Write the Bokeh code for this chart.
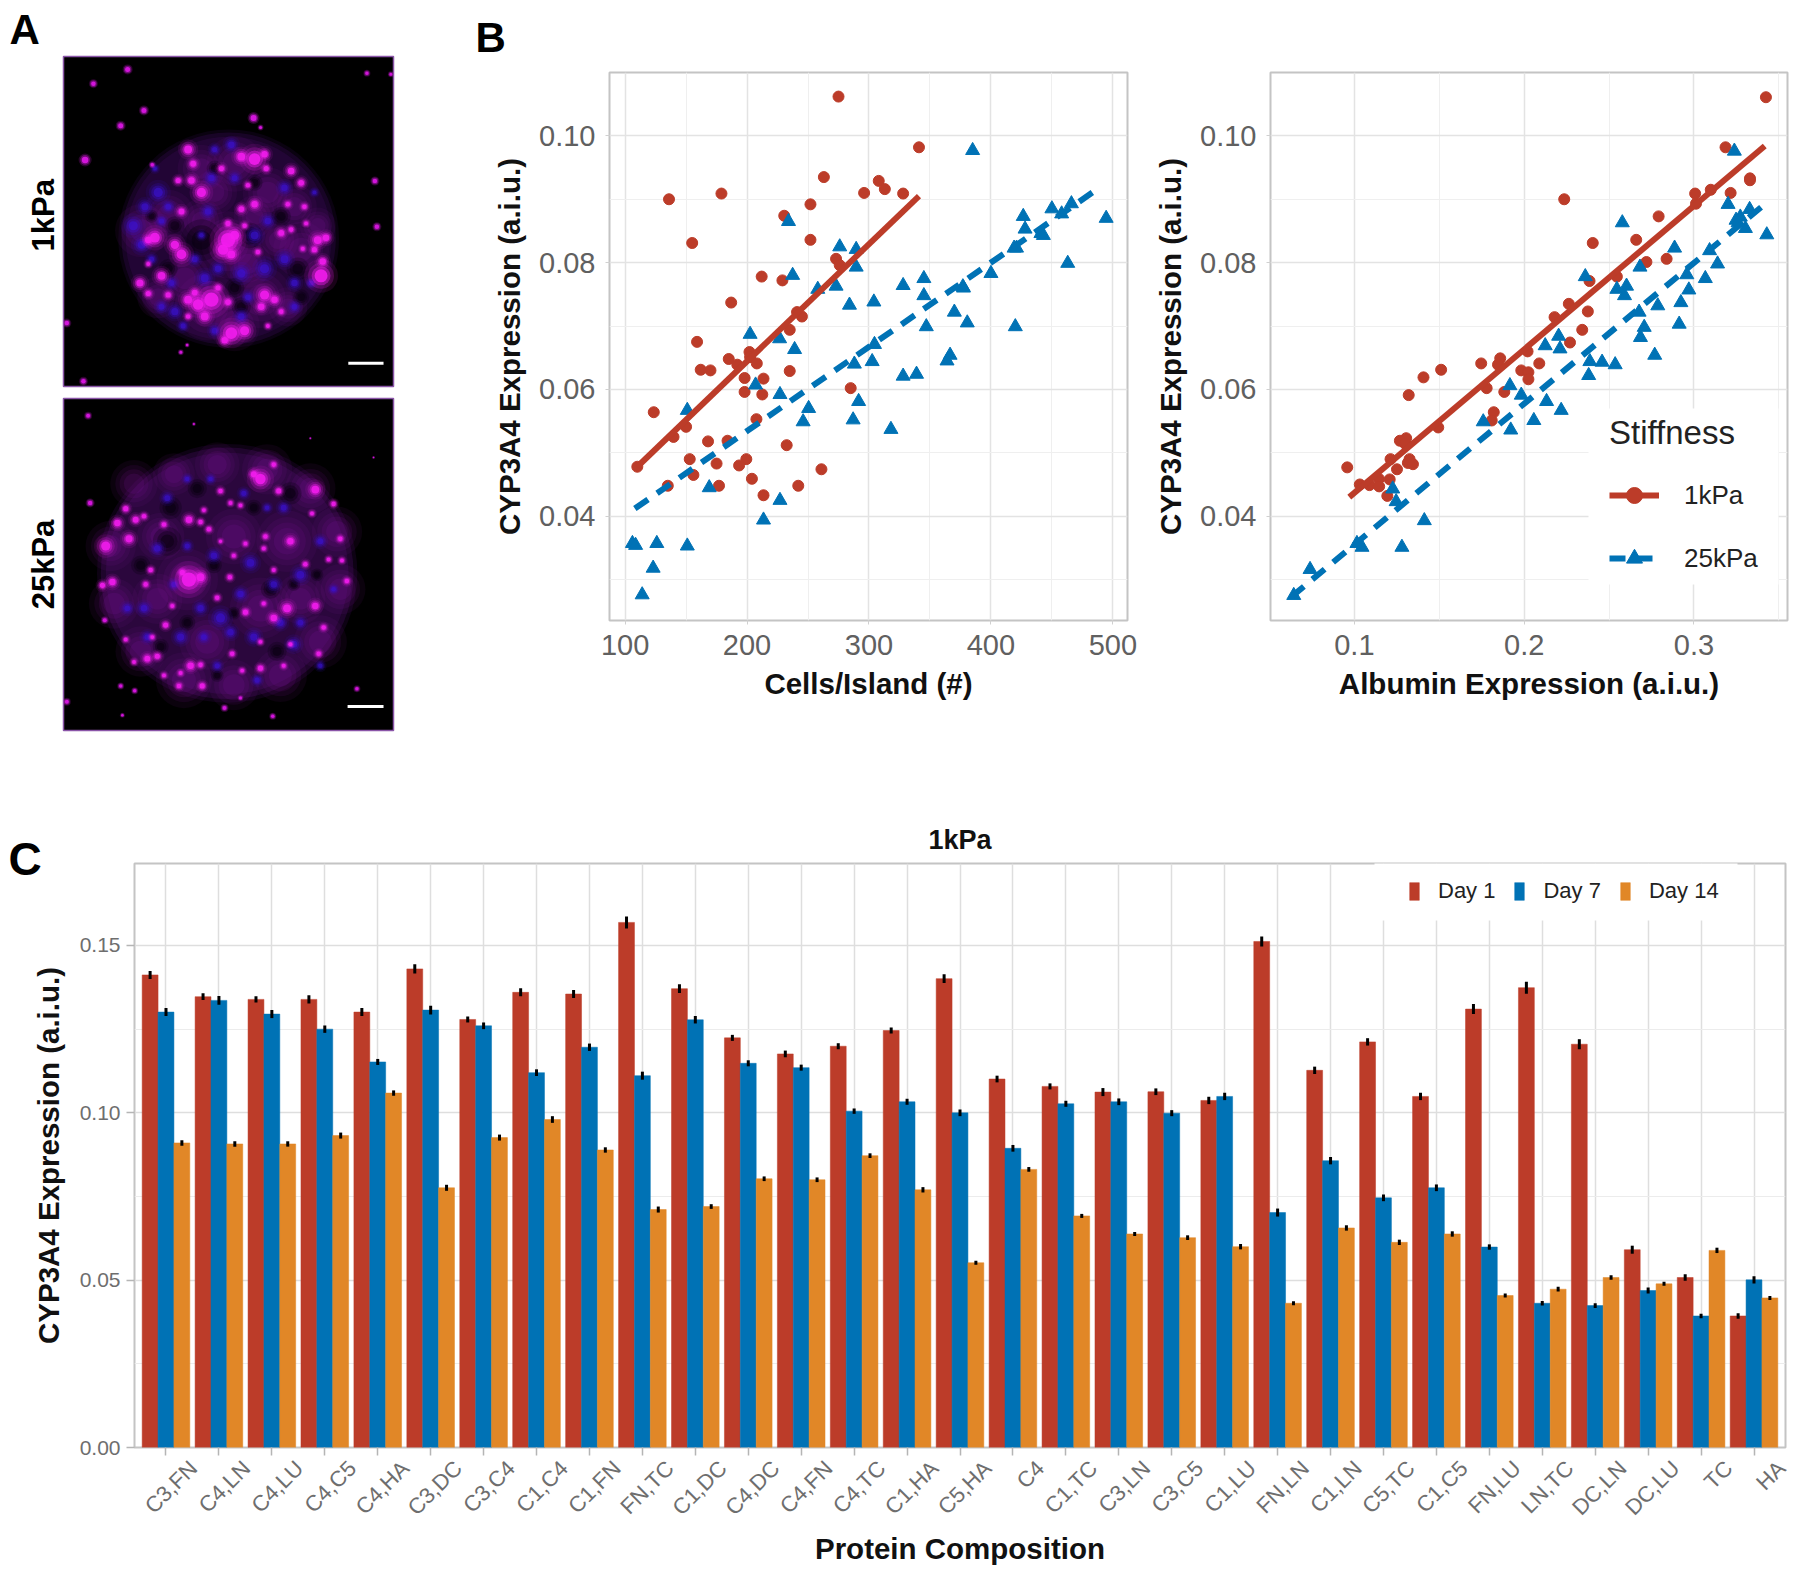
from math import pi
from bokeh.plotting import figure
from bokeh.layouts import column, row
from bokeh.models import (ColumnDataSource, FixedTicker, Legend, LegendItem, LinearAxis,
                          PrintfTickFormatter, Range1d, BoxAnnotation, Title)
from bokeh.embed import file_html
from bokeh.resources import INLINE

FONT = "Liberation Sans"
RED, BLUE, ORANGE = "#BC3C29", "#0072B5", "#E18727"

# ---------- Panel B data ----------
cells_1k = [275,341,136,179,263,308,313,296,328,252,230.5,252,155,273,276,212,229,187,241,245,235,159,185,202,202.5,208,192,162,170,235,198,213.5,198,212.5,285,123.5,207.7,150,139.7,168,184,232.5,153,199.4,175,193.5,110,261,156,204,135,177,242,213.5]
cyp_1k = [.1062,.0982,.0900,.0909,.0935,.0929,.0916,.0910,.0909,.0892,.0874,.0836,.0831,.0806,.0796,.0778,.0772,.0737,.0722,.0715,.0694,.0675,.0648,.0659,.0651,.0641,.0639,.0631,.0630,.0629,.0618,.0617,.0596,.0592,.0602,.0564,.0553,.0541,.0525,.0518,.0519,.0512,.0490,.0490,.0483,.0480,.0478,.0474,.0465,.0459,.0448,.0448,.0448,.0433]
cells_25k = [385,234,494.5,426.5,466,450,458,428,441,443,276,289.5,289.5,419,421,463,400,237.4,345,328,377,273,258,345,304,284,370,380.6,347,420,202.5,226.7,304.5,239,366.5,364,302.6,288,339,328,207,227,291.5,250.5,151,287,246,318,169,227,213.5,106,108.6,126,151,123,114,377.5]
cyp_25k = [.0977,.0865,.0870,.0873,.0893,.0885,.0877,.0853,.0846,.0843,.0825,.0821,.0793,.0823,.0823,.0799,.0783,.0780,.0775,.0764,.0762,.0763,.0758,.0748,.0738,.0733,.0722,.0705,.0699,.0699,.0687,.0680,.0671,.0663,.0654,.0645,.0644,.0640,.0624,.0621,.0607,.0592,.0581,.0570,.0567,.0552,.0549,.0537,.0445,.0425,.0394,.0357,.0354,.0357,.0353,.0318,.0276,.0760]
fit_cells_1k_x = [110, 341]
fit_cells_1k_y = [.0478, .0905]
fit_cells_25k_x = [108, 485]
fit_cells_25k_y = [.0412, .0913]

alb_1k = [.3424,.3186,.3330,.3330,.3099,.3216,.3007,.3012,.2236,.2792,.2660,.2404,.2839,.2720,.2546,.2385,.2263,.2375,.2179,.2342,.2270,.2020,.1859,.1747,.1846,.2089,.1511,.1983,.2025,.1407,.2025,.1779,.1883,.1320,.1821,.1809,.1494,.1305,.1268,.1300,.1213,.1325,.1315,.1345,.1251,.0958,.1208,.1144,.1032,.1089,.1146,.1194]
cypa_1k = [.1061,.0982,.0933,.0930,.0915,.0910,.0909,.0893,.0900,.0873,.0836,.0831,.0806,.0801,.0778,.0771,.0735,.0723,.0714,.0694,.0674,.0660,.0649,.0641,.0639,.0641,.0631,.0630,.0627,.0619,.0616,.0602,.0596,.0591,.0564,.0551,.0540,.0523,.0519,.0514,.0490,.0490,.0484,.0482,.0474,.0477,.0458,.0459,.0450,.0449,.0447,.0432]
alb_25k = [.3238,.2578,.3201,.3328,.3429,.3248,.3273,.3260,.3303,.2886,.3092,.2682,.3139,.2958,.2360,.3067,.2603,.2546,.2970,.2591,.2923,.2787,.2677,.2707,.2913,.2685,.2203,.2124,.2211,.2769,.2387,.2459,.2536,.2380,.1916,.1983,.2132,.2218,.1759,.2057,.1921,.1226,.1246,.1412,.1015,.1045,.1280,.0739,.0643]
cypa_25k = [.0976,.0863,.0892,.0884,.0844,.0867,.0872,.0863,.0854,.0823,.0819,.0793,.0798,.0781,.0778,.0775,.0763,.0758,.0757,.0748,.0737,.0732,.0722,.0698,.0703,.0682,.0684,.0669,.0664,.0654,.0644,.0643,.0639,.0622,.0606,.0591,.0581,.0567,.0549,.0551,.0536,.0443,.0423,.0393,.0357,.0351,.0351,.0316,.0275]
fit_alb_1k_x = [.097, .3417]
fit_alb_1k_y = [.0430, .0984]
fit_alb_25k_x = [.063, .3434]
fit_alb_25k_y = [.0273, .0896]

# ---------- Panel C data ----------
compositions = ["C3,FN","C4,LN","C4,LU","C4,C5","C4,HA","C3,DC","C3,C4","C1,C4","C1,FN","FN,TC","C1,DC","C4,DC","C4,FN","C4,TC","C1,HA","C5,HA","C4","C1,TC","C3,LN","C3,C5","C1,LU","FN,LN","C1,LN","C5,TC","C1,C5","FN,LU","LN,TC","DC,LN","DC,LU","TC","HA"]
day1 = [.1412,.1347,.1339,.1339,.1301,.1430,.1279,.1360,.1355,.1569,.1371,.1224,.1176,.1199,.1246,.1401,.1101,.1079,.1062,.1063,.1037,.1512,.1127,.1212,.1049,.1310,.1374,.1205,.0591,.0508,.0393]
day7 = [.1301,.1336,.1295,.1250,.1152,.1307,.1260,.1120,.1196,.1111,.1278,.1148,.1135,.1005,.1033,.1000,.0894,.1027,.1033,.0999,.1049,.0702,.0857,.0746,.0776,.0599,.0431,.0424,.0469,.0393,.0501]
day14 = [.0910,.0907,.0907,.0932,.1059,.0776,.0926,.0980,.0889,.0711,.0720,.0803,.0800,.0872,.0770,.0552,.0831,.0692,.0638,.0627,.0600,.0431,.0656,.0613,.0638,.0454,.0473,.0508,.0489,.0589,.0447]
err1 = [.0012,.0010,.0009,.0012,.0012,.0014,.0009,.0012,.0012,.0018,.0013,.0009,.0010,.0009,.0009,.0013,.0010,.0009,.0012,.0010,.0011,.0015,.0011,.0011,.0011,.0015,.0018,.0015,.0012,.0010,.0008]
err7 = [.0012,.0013,.0012,.0011,.0009,.0013,.0010,.0010,.0011,.0012,.0011,.0009,.0009,.0008,.0009,.0010,.0010,.0009,.0010,.0009,.0011,.0012,.0011,.0010,.0010,.0008,.0007,.0007,.0009,.0007,.0011]
err14 = [.0008,.0008,.0008,.0009,.0008,.0009,.0009,.0010,.0008,.0009,.0007,.0007,.0007,.0007,.0008,.0006,.0007,.0006,.0006,.0007,.0008,.0006,.0008,.0008,.0008,.0006,.0007,.0007,.0006,.0008,.0006]

# ---------- Panel A: spots (x, y, diameter) ----------
a1_far = [(378,142,10),(275,172,9),(427,228,10),(357,260,10),(250,332,13),(757,244,12),(778,264,6),(1098,150,7),(1170,152,6),(1122,376,9),(1128,472,9),(195,674,9),(245,796,9),(538,735,6),(557,720,5),(452,342,7)]
a1_haze = [(600,350,34),(700,340,40),(800,400,36),(500,450,38),(420,480,38),(550,580,36),(620,640,48),(780,620,44),(900,520,40),(680,510,48),(830,500,30),(700,680,36),(470,620,30),(880,430,32),(600,460,32),(740,550,34),(640,400,32),(950,470,26),(860,640,28),(760,450,30)]
a1_dark = [(600,500,26),(745,490,16),(520,470,12),(700,600,12),(640,350,10),(840,450,12),(890,560,14),(500,560,12),(720,640,12),(760,380,10),(450,450,8),(900,620,10)]
a1_blue = [(470,400,14),(430,430,11),(500,430,9),(395,470,14),(420,510,12),(480,460,8),(620,440,10),(630,370,10),(700,370,9),(600,490,7),(580,540,9),(760,490,12),(800,460,10),(790,560,14),(720,570,13),(650,560,10),(850,540,12),(880,590,10),(740,620,9),(520,650,11),(480,640,9),(545,680,8),(640,690,9),(720,660,10),(880,640,9),(610,580,12),(510,590,9),(450,540,8),(850,390,10),(690,300,10),(640,310,8),(940,400,6),(930,590,8),(460,350,6)]
a1_mag = [(760,330,18),(720,325,12),(790,320,10),(560,310,12),(575,340,9),(530,375,8),(600,400,14),(570,375,10),(870,355,10),(900,380,9),(795,350,8),(740,385,7),(660,350,8),(540,440,9),(680,465,8),(730,470,7),(760,425,10),(720,435,9),(860,425,7),(910,430,7),(915,465,6),(840,485,9),(870,478,7),(460,495,15),(440,500,10),(520,510,13),(540,530,15),(680,500,22),(665,520,16),(700,490,14),(690,530,12),(950,500,12),(975,495,10),(940,520,8),(770,525,7),(905,518,6),(960,575,20),(965,545,10),(480,575,12),(415,590,11),(440,612,8),(500,615,8),(630,625,22),(590,635,16),(560,625,12),(610,660,12),(790,615,14),(820,625,10),(780,640,10),(680,630,9),(690,695,18),(730,690,14),(670,710,10),(840,650,7),(800,680,6),(440,550,6),(560,660,7),(580,610,9),(650,600,8)]
a1_bar_x = [1042, 1148]
a1_bar_y = [758, 758]

a2_far = [(262,868,8),(268,1050,9),(312,1295,8),(360,1432,7),(402,1442,7),(198,1465,8),(672,1478,8),(817,1495,7),(1070,1438,7),(365,1493,5),(720,1457,6),(580,885,4),(930,915,3),(1120,955,3)]
a2_haze = [(400,1010,34),(520,990,30),(650,970,32),(800,980,36),(930,1020,36),(1010,1110,36),(1020,1230,36),(960,1340,38),(840,1410,38),(700,1430,36),(550,1420,40),(420,1360,36),(340,1260,36),(330,1140,36),(560,1210,44),(700,1120,40),(860,1130,44),(780,1270,44),(620,1340,40),(480,1120,34),(900,1250,36),(470,1250,36)]
a2_dark = [(500,1130,18),(510,1060,14),(590,1020,12),(870,1030,14),(810,1230,12),(640,1180,10),(760,1060,10),(420,1180,12),(560,1300,10),(700,1280,8),(880,1220,8),(480,1350,10),(830,1360,12),(650,1410,8),(950,1200,8)]
a2_blue = [(500,1040,9),(470,1145,10),(560,1140,8),(640,1160,10),(750,1175,12),(820,1220,10),(900,1200,12),(660,1290,14),(720,1240,10),(600,1270,10),(520,1220,8),(430,1270,10),(380,1270,9),(540,1330,11),(610,1330,9),(690,1320,10),(760,1330,11),(840,1300,10),(900,1300,9),(880,1345,11),(1000,1230,7),(960,1130,9),(730,1030,8),(850,1060,9),(630,1000,7),(560,1000,7),(800,1060,7),(440,1330,9),(770,1420,8),(650,1390,8),(960,1390,7)]
a2_mag = [(315,1140,14),(350,1092,10),(375,1062,8),(405,1085,9),(430,1078,7),(385,1125,11),(335,1215,10),(305,1222,8),(375,1335,6),(400,1382,6),(455,1330,6),(435,1220,7),(450,1190,7),(495,1305,8),(515,1265,6),(440,1375,9),(470,1370,8),(565,1210,22),(600,1205,12),(545,1195,8),(565,1085,10),(600,1090,7),(625,1105,7),(660,1025,7),(690,1050,6),(720,1055,6),(610,1065,6),(490,1095,7),(820,970,7),(835,1025,8),(780,1000,16),(760,990,9),(945,1022,12),(1000,1052,7),(935,1072,6),(870,1130,10),(795,1120,7),(735,1135,6),(700,1160,6),(660,1130,5),(915,1178,7),(985,1168,6),(1020,1125,7),(1025,1170,6),(1040,1213,7),(820,1190,6),(688,1205,7),(790,1145,6),(735,1278,8),(820,1290,10),(860,1270,12),(945,1265,10),(970,1310,7),(790,1260,6),(650,1248,7),(780,1340,6),(695,1365,7),(870,1345,6),(955,1365,7),(535,1432,7),(605,1432,8),(570,1390,10),(600,1388,7),(780,1395,8),(850,1390,6),(725,1400,6),(490,1410,6),(540,1405,6)]
a2_bar_x = [1042, 1150]
a2_bar_y = [1475, 1475]


def spots(p, pts, color, layers):
    xs = [q[0] for q in pts]
    ys = [q[1] for q in pts]
    for k, alpha in layers:
        p.scatter(xs, ys, size=[q[2] * k for q in pts], marker="circle", fill_color=color,
                  fill_alpha=alpha, line_color=None)


def micro(width, height, ml, mr, mt, mb, xr, yr, body, far, haze, dark, blue, mag, barx, bary, rim):
    p = figure(width=width, height=height, x_range=Range1d(*xr), y_range=Range1d(*yr),
               output_backend="svg", toolbar_location=None, min_border_left=ml, min_border_right=mr,
               min_border_top=mt, min_border_bottom=mb, background_fill_color="black",
               border_fill_color="white", outline_line_color="#8a55a8", outline_line_width=1.5)
    p.axis.visible = False
    p.grid.visible = False
    for grow, alpha in [(1.03, 0.18), (1.0, 0.3), (0.96, 0.3)]:
        p.ellipse(x=[body[0]], y=[body[1]], width=[body[2] * grow], height=[body[3] * grow],
                  fill_color=rim, fill_alpha=alpha, line_color=None)
    spots(p, haze, "#8a14a8", [(1.4, 0.08), (1.1, 0.1), (0.85, 0.12), (0.6, 0.14)])
    spots(p, dark, "#05000c", [(1.6, 0.25), (1.15, 0.35), (0.75, 0.45)])
    spots(p, blue, "#3a12d8", [(1.8, 0.1), (1.35, 0.18), (1.0, 0.3), (0.65, 0.55)])
    spots(p, mag, "#f41cf0", [(1.7, 0.1), (1.3, 0.2), (0.95, 0.4), (0.65, 0.85)])
    spots(p, far, "#d816e0", [(1.0, 0.2), (0.75, 0.4), (0.5, 0.95)])
    p.line(barx, bary, line_color="white", line_width=3)
    return p


def ttl(text, size, align, offset, standoff):
    return Title(text=text, text_font=FONT, text_font_size=size, text_font_style="bold", text_color="black",
                 align=align, offset=offset, standoff=standoff)


# ---------- Panel A ----------
a1 = micro(470, 392, 62, 77, 55, 6, (185, 1178), (807, 115), (682, 497, 645, 445),
           a1_far, a1_haze, a1_dark, a1_blue, a1_mag, a1_bar_x, a1_bar_y, "#3a0a58")
a1.add_layout(ttl("A", "42px", "left", -54, 7), "above")
a1.add_layout(ttl("1kPa", "31px", "left", 135, 6), "left")
a2 = micro(470, 346, 63, 76, 6, 8, (188, 1180), (1525, 832), (680, 1197, 760, 525),
           a2_far, a2_haze, a2_dark, a2_blue, a2_mag, a2_bar_x, a2_bar_y, "#4a0c68")
a2.add_layout(ttl("25kPa", "31px", "center", 0, 6), "left")


# ---------- Panel B ----------
def scatter_panel(width, ml, mr, fw_range, xticks, xminor, xfmt, xlabel):
    p = figure(width=width, height=738, x_range=Range1d(*fw_range), y_range=Range1d(0.02354, 0.1100),
               output_backend="svg", toolbar_location=None, min_border_left=ml, min_border_right=mr,
               min_border_top=71, min_border_bottom=118, background_fill_color="white",
               outline_line_color="#c4c4c4", outline_line_width=2)
    p.xaxis.ticker = FixedTicker(ticks=xticks, minor_ticks=xminor)
    p.yaxis.ticker = FixedTicker(ticks=[.04, .06, .08, .10], minor_ticks=[.03, .05, .07, .09])
    p.xaxis.formatter = PrintfTickFormatter(format=xfmt)
    p.yaxis.formatter = PrintfTickFormatter(format="%.2f")
    for ax in (p.xaxis[0], p.yaxis[0]):
        ax.axis_line_color = None
        ax.major_tick_line_color = "#d0d0d0"
        ax.major_tick_out = 4
        ax.major_tick_in = 0
        ax.minor_tick_line_color = None
        ax.major_label_text_font = FONT
        ax.major_label_text_font_size = "29px"
        ax.major_label_text_color = "#606060"
        ax.major_label_standoff = 10
        ax.axis_label_text_font = FONT
        ax.axis_label_text_font_size = "29.5px"
        ax.axis_label_text_font_style = "bold"
        ax.axis_label_text_color = "#111111"
    p.yaxis.axis_label = "CYP3A4 Expression (a.i.u.)"
    p.xaxis.axis_label = xlabel
    p.xaxis.axis_label_standoff = 9
    p.yaxis.axis_label_standoff = 10
    p.xgrid.grid_line_color = "#e3e3e3"
    p.ygrid.grid_line_color = "#e3e3e3"
    p.xgrid.grid_line_width = 1.5
    p.ygrid.grid_line_width = 1.5
    p.xgrid.minor_grid_line_color = "#efefef"
    p.ygrid.minor_grid_line_color = "#efefef"
    return p


def draw_series(p, x1, y1, x2, y2, fx1, fy1, fx2, fy2):
    c = p.scatter(x1, y1, marker="circle", size=11, fill_color=RED, line_color=RED)
    t = p.scatter(x2, y2, marker="triangle", size=14, fill_color=BLUE, line_color=BLUE)
    l1 = p.line(fx1, fy1, line_color=RED, line_width=6)
    l2 = p.line(fx2, fy2, line_color=BLUE, line_width=6, line_dash="16 11")
    return c, t, l1, l2


bl = scatter_panel(678, 139, 21, (87.2, 512), [100, 200, 300, 400, 500], [150, 250, 350, 450], "%d", "Cells/Island (#)")
draw_series(bl, cells_1k, cyp_1k, cells_25k, cyp_25k, fit_cells_1k_x, fit_cells_1k_y, fit_cells_25k_x, fit_cells_25k_y)
bl.add_layout(ttl("B", "42px", "left", -134, 23), "above")

br = scatter_panel(644, 122, 5, (0.0506, 0.3551), [.1, .2, .3], [.15, .25, .35], "%.1f", "Albumin Expression (a.i.u.)")
c, t, l1, l2 = draw_series(br, alb_1k, cypa_1k, alb_25k, cypa_25k, fit_alb_1k_x, fit_alb_1k_y, fit_alb_25k_x, fit_alb_25k_y)
br.add_layout(BoxAnnotation(left=440, right=630, top=408, bottom=584, left_units="canvas", right_units="canvas",
                            top_units="canvas", bottom_units="canvas", fill_color="white", fill_alpha=1,
                            line_color=None, level="annotation"))
leg_b = Legend(items=[LegendItem(label="1kPa", renderers=[l1, c]), LegendItem(label="25kPa", renderers=[l2, t])],
               title="Stiffness", location=(339, 42), orientation="vertical", margin=0, padding=0,
               background_fill_alpha=0, border_line_color=None, glyph_width=50, glyph_height=40,
               label_standoff=25, spacing=23, title_standoff=23, title_text_font=FONT,
               title_text_font_size="33px", title_text_font_style="normal", title_text_color="#222222",
               label_text_font=FONT, label_text_font_size="26px", label_text_color="#222222")
br.add_layout(leg_b)

# ---------- Panel C ----------
n_cat = len(compositions)
centers = [i + 0.5 for i in range(n_cat)]
cp = figure(width=1792, height=838, x_range=Range1d(-0.095, n_cat + 0.095),
            y_range=Range1d(0, 0.1745), output_backend="svg", toolbar_location=None,
            min_border_left=134, min_border_right=7, min_border_top=125, min_border_bottom=129,
            outline_line_color="#c4c4c4", outline_line_width=2, title="1kPa")
cp.title.align = "center"
cp.title.text_font = FONT
cp.title.text_font_size = "27px"
cp.title.text_font_style = "bold"
cp.title.text_color = "#111111"
cp.title.standoff = -4
cp.add_layout(ttl("C", "46px", "left", -126, -43), "above")
cp.yaxis.ticker = FixedTicker(ticks=[0, .05, .10, .15], minor_ticks=[.025, .075, .125])
cp.yaxis.formatter = PrintfTickFormatter(format="%.2f")
cp.xaxis.ticker = FixedTicker(ticks=centers, minor_ticks=[])
for ax in (cp.xaxis[0], cp.yaxis[0]):
    ax.axis_line_color = None
    ax.major_tick_line_color = "#b5b5b5"
    ax.major_tick_line_width = 1.5
    ax.major_tick_out = 8
    ax.major_tick_in = 0
    ax.minor_tick_line_color = None
    ax.major_label_text_font = FONT
    ax.major_label_text_color = "#6e6e6e"
    ax.axis_label_text_font = FONT
    ax.axis_label_text_font_style = "bold"
    ax.axis_label_text_color = "#111111"
    ax.axis_label_text_font_size = "29.5px"
cp.yaxis[0].major_label_text_font_size = "21px"
cp.yaxis[0].major_label_standoff = 6
cp.yaxis[0].axis_label = "CYP3A4 Expression (a.i.u.)"
cp.yaxis[0].axis_label_standoff = 12
cp.xaxis[0].major_label_overrides = {c_: " " for c_ in centers}
cp.xaxis[0].major_label_text_font_size = "1px"
cp.xaxis[0].major_label_text_color = None
cp.xaxis[0].major_label_standoff = 0
cp.xgrid.grid_line_color = "#dedede"
cp.xgrid.grid_line_width = 1.5
cp.ygrid.grid_line_color = "#dedede"
cp.ygrid.grid_line_width = 1.5
cp.ygrid.minor_grid_line_color = "#ececec"

# the rotated labels sit centred on their ticks: a second axis carries them with a small shift
label_shift = 0.52
label_ticks = [round(c_ + label_shift, 2) for c_ in centers]
lab_axis = LinearAxis(ticker=FixedTicker(ticks=label_ticks, minor_ticks=[]),
                      major_label_overrides=dict(zip(label_ticks, compositions)),
                      major_label_orientation=pi / 4, major_label_text_font=FONT, major_label_text_font_size="22px",
                      major_label_text_color="#6e6e6e", major_label_standoff=9, major_tick_line_color=None,
                      minor_tick_line_color=None, axis_line_color=None, major_tick_out=0, major_tick_in=0,
                      axis_label="Protein Composition", axis_label_text_font=FONT, axis_label_text_font_size="29.5px",
                      axis_label_text_font_style="bold", axis_label_text_color="#111111", axis_label_standoff=0)
cp.add_layout(lab_axis, "below")

items = []
for name, vals, errs, col, off in [("Day 1", day1, err1, RED, -0.3), ("Day 7", day7, err7, BLUE, 0.0), ("Day 14", day14, err14, ORANGE, 0.3)]:
    src = ColumnDataSource(dict(x=[c_ + off for c_ in centers], val=vals,
                                lo=[v - e for v, e in zip(vals, errs)],
                                hi=[v + e for v, e in zip(vals, errs)]))
    r = cp.vbar(x="x", top="val", bottom=0, width=0.3, source=src,
                fill_color=col, line_color=col, line_width=0.5)
    cp.segment(x0="x", y0="lo", x1="x", y1="hi", source=src, line_color="black", line_width=3)
    items.append(LegendItem(label=name, renderers=[r]))

cp.add_layout(BoxAnnotation(left=1374, right=1737, top=123, bottom=182, left_units="canvas", right_units="canvas",
                            top_units="canvas", bottom_units="canvas", fill_color="white", fill_alpha=1,
                            line_color=None, level="annotation"))
leg_c = Legend(items=items, location=(1274, 543), orientation="horizontal", margin=0, padding=0,
               background_fill_alpha=0, border_line_color=None, glyph_width=12, glyph_height=22,
               label_standoff=18, spacing=18, label_text_font=FONT, label_text_font_size="22px",
               label_text_color="#222222")
cp.add_layout(leg_c)

layout = column(row(column(a1, a2, spacing=0), bl, br, spacing=0), cp, spacing=0)
open("out.html", "w").write(file_html(layout, INLINE))
